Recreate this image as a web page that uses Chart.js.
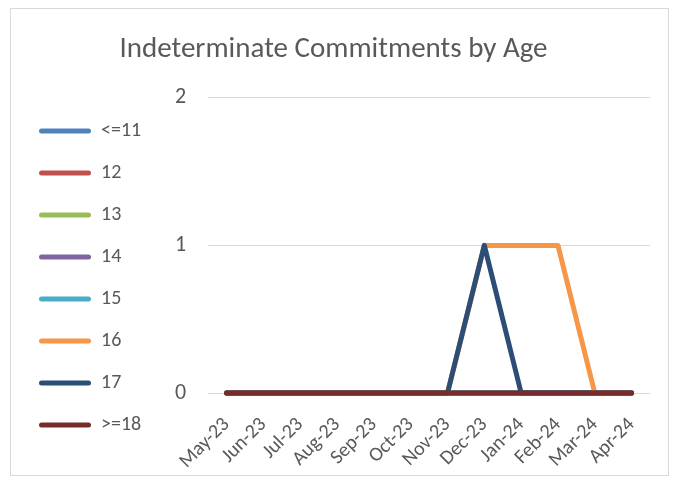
<!DOCTYPE html>
<html>
<head>
<meta charset="utf-8">
<script src="https://cdn.jsdelivr.net/npm/chart.js@4"></script>
<style>
  body { margin: 0; background: #fff; }
  #wrap {
    position: absolute; left: 10px; top: 8px;
    width: 657px; height: 466px;
    border: 1px solid #d9d9d9;
  }
</style>
</head>
<body>
<div id="wrap"><canvas id="ageChart"></canvas></div>
<script>
const months = ['May-23', 'Jun-23', 'Jul-23', 'Aug-23', 'Sep-23', 'Oct-23',
                'Nov-23', 'Dec-23', 'Jan-24', 'Feb-24', 'Mar-24', 'Apr-24'];
const ageGroups = ['<=11', '12', '13', '14', '15', '16', '17', '>=18'];
const le11 = [0, 0, 0, 0, 0, 0, 0, 0, 0, 0, 0, 0];
const age12 = [0, 0, 0, 0, 0, 0, 0, 0, 0, 0, 0, 0];
const age13 = [0, 0, 0, 0, 0, 0, 0, 0, 0, 0, 0, 0];
const age14 = [0, 0, 0, 0, 0, 0, 0, 0, 0, 0, 0, 0];
const age15 = [0, 0, 0, 0, 0, 0, 0, 0, 0, 0, 0, 0];
const age16 = [0, 0, 0, 0, 0, 0, 0, 1, 1, 1, 0, 0];
const age17 = [0, 0, 0, 0, 0, 0, 0, 1, 0, 0, 0, 0];
const ge18 = [0, 0, 0, 0, 0, 0, 0, 0, 0, 0, 0, 0];
const yTicks = [0, 1, 2];

const seriesValues = [le11, age12, age13, age14, age15, age16, age17, ge18];
const colors = ['#4f81bd', '#c0504d', '#9bbb59', '#8064a2', '#4bacc6', '#f79646', '#2c4d75', '#772c2a'];
const font = "Carlito, Calibri, 'Open Sans', sans-serif";

const datasets = ageGroups.map((name, i) => ({
    label: name,
    data: seriesValues[i],
    borderColor: colors[i],
    backgroundColor: colors[i],
    borderWidth: 5,
    borderCapStyle: 'round',
    borderJoinStyle: 'round',
    pointRadius: 0,
    tension: 0,
    clip: false,
    // later series sit on top, like the spreadsheet draws them
    order: ageGroups.length - i
}));

// pull the legend column up a bit so it sits level with the plot
const legendLift = {
    id: 'legendLift',
    afterLayout(chart) {
        if (chart.legend) chart.legend.bottom -= 18;
    }
};

const ctx = document.getElementById('ageChart').getContext('2d');
const ageChart = new Chart(ctx, {
    type: 'line',
    data: { labels: months, datasets: datasets },
    plugins: [legendLift],
    options: {
        responsive: true,
        maintainAspectRatio: false,
        animation: false,
        layout: { padding: { left: 6, right: 18, bottom: 0 } },
        scales: {
            x: {
                offset: true,
                grid: { display: false },
                border: { display: false },
                afterFit: axis => {
                    axis.height = 82;
                    axis.paddingLeft = 0;
                    axis.paddingRight = 0;
                },
                ticks: {
                    color: '#595959',
                    font: { family: font, size: 20 },
                    autoSkip: false,
                    minRotation: 45,
                    maxRotation: 45,
                    padding: 12
                }
            },
            y: {
                min: 0,
                max: yTicks[yTicks.length - 1],
                afterBuildTicks: axis => { axis.ticks = yTicks.map(v => ({ value: v })); },
                afterFit: axis => { axis.width = 57; },
                grid: { color: '#d9d9d9', lineWidth: 1, drawTicks: false },
                border: { display: false },
                ticks: {
                    color: '#595959',
                    font: { family: font, size: 22 },
                    padding: 22
                }
            }
        },
        plugins: {
            title: {
                display: true,
                text: 'Indeterminate Commitments by Age',
                color: '#595959',
                font: { family: font, size: 29, weight: 'normal' },
                padding: { top: 23, bottom: 31 }
            },
            legend: {
                position: 'left',
                align: 'end',
                labels: {
                    sort: (a, b) => a.datasetIndex - b.datasetIndex,
                    generateLabels: chart => Chart.defaults.plugins.legend.labels
                        .generateLabels(chart).map(item => ({ ...item, lineWidth: 0 })),
                    color: '#595959',
                    font: { family: font, size: 20 },
                    boxWidth: 52,
                    boxHeight: 5,
                    useBorderRadius: true,
                    borderRadius: 2.5,
                    padding: 22
                }
            },
            tooltip: { enabled: false }
        }
    }
});
</script>
</body>
</html>
